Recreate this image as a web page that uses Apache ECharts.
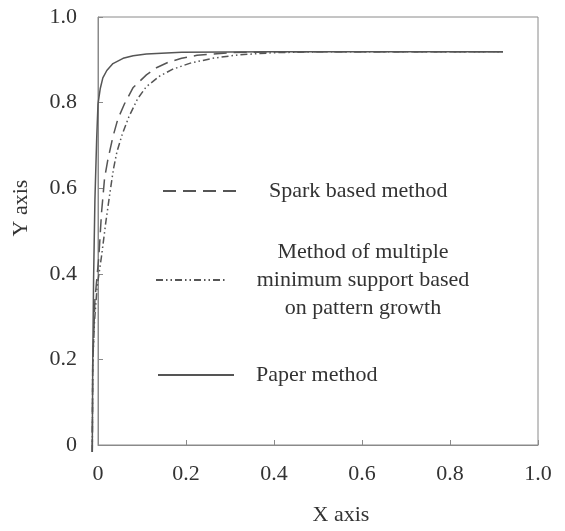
<!DOCTYPE html>
<html>
<head>
<meta charset="utf-8">
<script src="https://cdn.jsdelivr.net/npm/echarts@6/dist/echarts.min.js"></script>
<style>
  html, body { margin: 0; padding: 0; background: #fff; }
  #chart { width: 565px; height: 531px; }
</style>
</head>
<body>
<div id="chart"></div>
<script>
// tick labels
const xTickLabels = ['0', '0.2', '0.4', '0.6', '0.8', '1.0'];
const yTickLabels = ['0', '0.2', '0.4', '0.6', '0.8', '1.0'];

// series names
const seriesNames = [
  'Spark based method',
  'Method of multiple minimum support based on pattern growth',
  'Paper method'
];

// [x, y] points
const sparkData = [
  [-0.013, 0], [-0.012, 0.2], [-0.007, 0.35], [0.002, 0.45], [0.008, 0.55],
  [0.015, 0.63], [0.022, 0.67], [0.034, 0.725], [0.045, 0.765], [0.06, 0.8],
  [0.08, 0.838], [0.11, 0.867], [0.134, 0.884], [0.16, 0.896], [0.19, 0.905],
  [0.225, 0.912], [0.3, 0.918], [0.4, 0.92], [0.92, 0.92]
];
const multiData = [
  [-0.013, 0], [-0.012, 0.2], [-0.008, 0.3], [-0.002, 0.38], [0.008, 0.45],
  [0.018, 0.53], [0.027, 0.595], [0.035, 0.65], [0.043, 0.69], [0.055, 0.73],
  [0.07, 0.77], [0.09, 0.812], [0.11, 0.84], [0.14, 0.864], [0.17, 0.88],
  [0.21, 0.894], [0.26, 0.905], [0.32, 0.913], [0.4, 0.918], [0.5, 0.92],
  [0.92, 0.92]
];
const paperData = [
  [-0.013, 0], [-0.012, 0.2], [-0.01, 0.4], [-0.007, 0.58], [-0.003, 0.72],
  [0, 0.8], [0.005, 0.835], [0.011, 0.86], [0.02, 0.877], [0.034, 0.893],
  [0.057, 0.905], [0.08, 0.911], [0.11, 0.915], [0.19, 0.919], [0.4, 0.92],
  [0.92, 0.92]
];

const FONT = "'Liberation Serif', 'Times New Roman', serif";
const TEXT = '#333';
const LINE = '#555';
const FRAME = '#8a8a8a';

const chart = echarts.init(document.getElementById('chart'));

function tickFormatter(labels) {
  return v => labels[Math.round(v / 0.2)];
}

// curves live on a hidden grid whose x range starts a bit below 0,
// so the part left of the y axis is drawn at the same scale
function lineSeries(name, data, type) {
  return {
    name: name,
    type: 'line',
    xAxisIndex: 1,
    yAxisIndex: 1,
    data: data,
    showSymbol: false,
    symbol: 'none',
    clip: false,
    silent: true,
    lineStyle: { color: LINE, width: 1.5, type: type },
    itemStyle: { color: LINE }
  };
}

const legendBase = {
  orient: 'vertical',
  itemWidth: 76,
  itemHeight: 14,
  selectedMode: false,
  itemStyle: { opacity: 0 },
  textStyle: { fontFamily: FONT, fontSize: 22, color: TEXT }
};

const hiddenAxis = {
  type: 'value',
  show: false,
  axisLine: { show: false },
  axisTick: { show: false },
  axisLabel: { show: false },
  splitLine: { show: false }
};

chart.setOption({
  backgroundColor: '#fff',
  animation: false,
  grid: [
    { left: 98, right: 27, top: 17, bottom: 79, show: true, borderColor: FRAME, borderWidth: 1 },
    { left: 89.2, right: 27, top: 17, bottom: 79 }
  ],
  xAxis: [{
    type: 'value',
    gridIndex: 0,
    min: 0, max: 1, interval: 0.2,
    name: 'X axis',
    nameLocation: 'middle',
    nameGap: 59,
    nameTextStyle: { fontFamily: FONT, fontSize: 22, color: TEXT, padding: [0, 0, 0, 46] },
    axisLine: { show: true, lineStyle: { color: FRAME } },
    axisTick: { show: true, inside: true, length: 5, lineStyle: { color: FRAME } },
    splitLine: { show: false },
    axisLabel: {
      fontFamily: FONT, fontSize: 22, color: TEXT, margin: 18,
      formatter: tickFormatter(xTickLabels)
    }
  }, Object.assign({}, hiddenAxis, { gridIndex: 1, min: -0.02, max: 1 })],
  yAxis: [{
    type: 'value',
    gridIndex: 0,
    min: 0, max: 1, interval: 0.2,
    name: 'Y axis',
    nameLocation: 'middle',
    nameGap: 66,
    nameTextStyle: { fontFamily: FONT, fontSize: 22, color: TEXT, padding: [0, 0, 0, 46] },
    axisLine: { show: true, lineStyle: { color: FRAME } },
    axisTick: { show: true, inside: true, length: 5, lineStyle: { color: FRAME } },
    splitLine: { show: false },
    axisLabel: {
      fontFamily: FONT, fontSize: 22, color: TEXT, margin: 21,
      formatter: tickFormatter(yTickLabels)
    }
  }, Object.assign({}, hiddenAxis, { gridIndex: 1, min: 0, max: 1 })],
  legend: [
    Object.assign({}, legendBase, {
      data: [seriesNames[0]],
      left: 157, top: 175,
      textStyle: Object.assign({}, legendBase.textStyle, { padding: [0, 0, 0, 25] })
    }),
    Object.assign({}, legendBase, {
      data: [seriesNames[1]],
      left: 150, top: 236,
      itemWidth: 70,
      formatter: () => '{c|Method of multiple}\n{c|minimum support based}\n{c|on pattern growth}',
      textStyle: Object.assign({}, legendBase.textStyle, {
        padding: [0, 0, 0, 20],
        rich: {
          c: { width: 224, align: 'center', lineHeight: 28, fontFamily: FONT, fontSize: 22, color: TEXT }
        }
      })
    }),
    Object.assign({}, legendBase, {
      data: [seriesNames[2]],
      left: 152, top: 359,
      textStyle: Object.assign({}, legendBase.textStyle, { padding: [0, 0, 0, 17] })
    })
  ],
  series: [
    lineSeries(seriesNames[0], sparkData, [13, 7]),
    lineSeries(seriesNames[1], multiData, [7, 3, 1.5, 3, 1.5, 3]),
    lineSeries(seriesNames[2], paperData, 'solid')
  ]
});
</script>
</body>
</html>
